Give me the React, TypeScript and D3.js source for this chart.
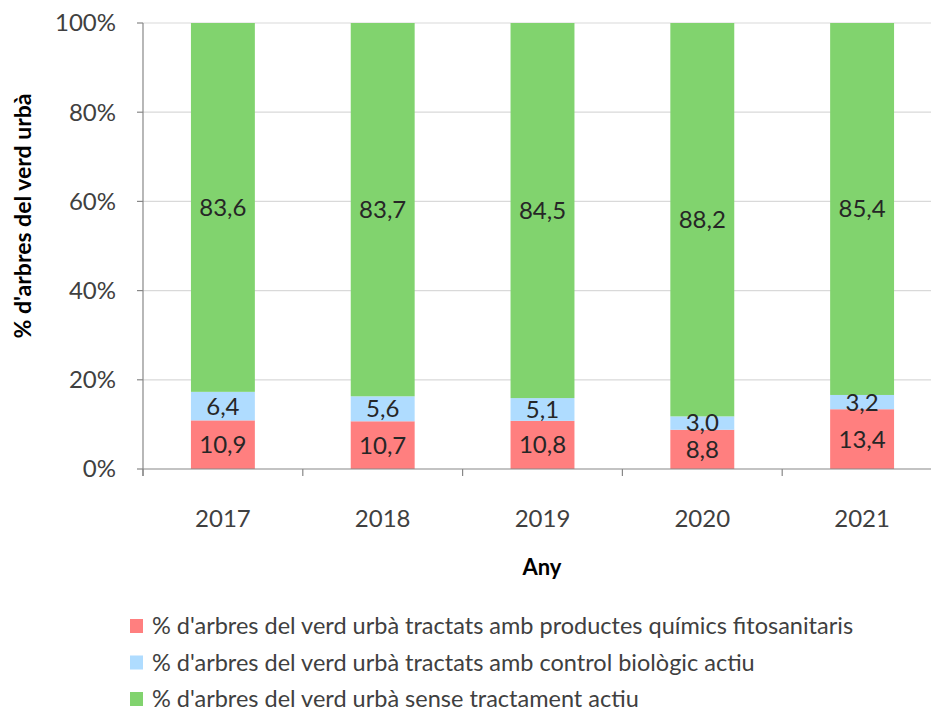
import React from "react";
import * as d3 from "d3";

const years = ["2017", "2018", "2019", "2020", "2021"];
const quimics = [10.9, 10.7, 10.8, 8.8, 13.4];
const biologic = [6.4, 5.6, 5.1, 3.0, 3.2];
const sense = [83.6, 83.7, 84.5, 88.2, 85.4];
const seriesNames = [
  "%  d'arbres del verd urbà tractats amb productes químics fitosanitaris",
  "% d'arbres del verd urbà tractats amb control biològic actiu",
  "% d'arbres del verd urbà sense tractament actiu",
];
const colors = ["#FF7F7F", "#AFDCFF", "#81D36E"];
const yTicks = [0, 20, 40, 60, 80, 100];

const W = 931, H = 711;
const M = { left: 143, top: 23, right: -11, bottom: 242 };
const FONT = "Lato, 'Open Sans', sans-serif";

export default function App() {
  const x = d3.scaleBand().domain(years).range([M.left, W - M.right]).paddingInner(0.6).paddingOuter(0.3);
  const y = d3.scaleLinear().domain([0, 100]).range([H - M.bottom, M.top]);
  const data = years.map((yr, i) => ({ yr, a: quimics[i], b: biologic[i], c: sense[i] }));
  const stack = d3.stack<any>().keys(["a", "b", "c"])(data as any);
  const step = x.step();
  const boundaries = d3.range(years.length + 1).map((i) => M.left + i * step);
  return (
    <svg width={W} height={H} style={{ position: "absolute", left: 0, top: 0, background: "#fff" }}>
      <defs>
        <clipPath id="plot">
          <rect x={M.left} y={M.top} width={W - M.left} height={H - M.bottom - M.top} />
        </clipPath>
      </defs>
      {yTicks.map((t) => (
        <g key={t}>
          {t > 0 && <line x1={M.left} x2={W} y1={y(t)} y2={y(t)} stroke="#D9D9D9" strokeWidth={1.2} />}
          <line x1={M.left - 6} x2={M.left} y1={y(t)} y2={y(t)} stroke="#888" strokeWidth={1.2} />
          <text x={116} y={y(t)} dy="0.35em" textAnchor="end" fontFamily={FONT} fontSize={24} fill="#404040">
            {t}%
          </text>
        </g>
      ))}
      <g clipPath="url(#plot)">
        {stack.map((s, si) =>
          s.map((d, i) => (
            <rect
              key={si + "-" + i}
              x={x(years[i])}
              width={x.bandwidth()}
              y={y(Math.min(d[1], 100))}
              height={y(d[0]) - y(Math.min(d[1], 100))}
              fill={colors[si]}
            />
          ))
        )}
      </g>
      {stack.map((s, si) =>
        s.map((d, i) => {
          const top = Math.min(d[1], 100);
          const mid = (d[0] + top) / 2;
          const v = d[1] - d[0];
          return (
            <text
              key={"l" + si + "-" + i}
              x={(x(years[i]) as number) + x.bandwidth() / 2}
              y={y(mid)}
              dy="0.35em"
              textAnchor="middle"
              fontFamily={FONT}
              fontSize={24}
              fill="#262626"
            >
              {v.toFixed(1).replace(".", ",")}
            </text>
          );
        })
      )}
      <line x1={M.left} x2={M.left} y1={M.top} y2={y(0) + 7} stroke="#888" strokeWidth={1.2} />
      <line x1={M.left} x2={W} y1={y(0)} y2={y(0)} stroke="#888" strokeWidth={1.2} />
      {boundaries.map((b, i) => (
        <line key={"tk" + i} x1={b} x2={b} y1={y(0)} y2={y(0) + 7} stroke="#888" strokeWidth={1.2} />
      ))}
      {years.map((yr) => (
        <text key={yr} x={(x(yr) as number) + x.bandwidth() / 2} y={519} dy="0.35em" textAnchor="middle" fontFamily={FONT} fontSize={24} fill="#404040">
          {yr}
        </text>
      ))}
      <text x={542} y={567} dy="0.35em" textAnchor="middle" fontFamily={FONT} fontSize={22} fontWeight="bold" fill="#000">
        Any
      </text>
      <text transform={`translate(23,${216}) rotate(-90)`} dy="0.35em" textAnchor="middle" fontFamily={FONT} fontSize={23} fontWeight="bold" fill="#000">
        % d'arbres del verd urbà
      </text>
      {seriesNames.map((n, i) => (
        <g key={n} transform={`translate(130,${626 + i * 36.5})`}>
          <rect x={0} y={-7} width={13} height={14} fill={colors[i]} />
          <text x={22} y={0} dy="0.35em" fontFamily={FONT} fontSize={23.5} fill="#404040">
            {n}
          </text>
        </g>
      ))}
    </svg>
  );
}
